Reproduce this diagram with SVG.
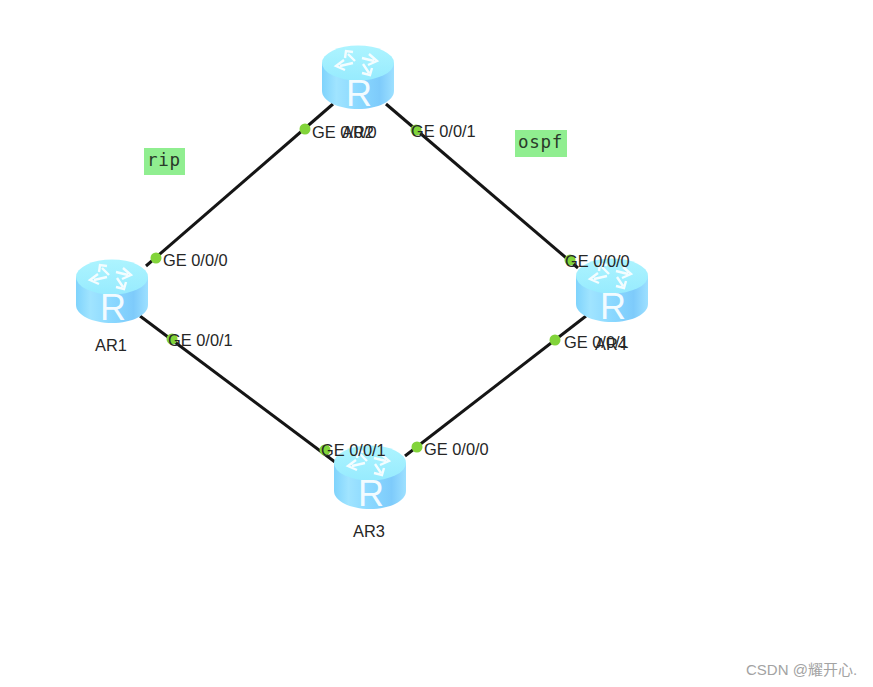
<svg xmlns="http://www.w3.org/2000/svg" xmlns:xlink="http://www.w3.org/1999/xlink" width="873" height="687" viewBox="0 0 873 687">
  <style>
    .link { stroke: #151515; stroke-width: 3; fill: none; }
    .port { fill: #82d43a; }
    .lbl { font-family: "Liberation Sans", Arial, sans-serif; font-size: 16.4px; fill: #262626; }
    .name { text-anchor: middle; }
    .r { font-family: "Liberation Sans", Arial, sans-serif; font-size: 36px; font-weight: 400; fill: #f2fbff; text-anchor: middle; }
    .tag { fill: #90ee90; }
    .tagt { font-family: "DejaVu Sans Mono", monospace; font-size: 17.5px; fill: #2a3a2a; letter-spacing: 0.7px; }
    .wm { font-family: "Liberation Sans", "Noto Sans CJK SC", sans-serif; font-size: 15px; fill: #a3a3a3; }
  </style>
  <defs>
    <linearGradient id="side" x1="0" x2="1" y1="0" y2="0">
      <stop offset="0" stop-color="#7fd3fc"/>
      <stop offset="0.2" stop-color="#a0e4ff"/>
      <stop offset="0.5" stop-color="#8ad8ff"/>
      <stop offset="0.8" stop-color="#7ecbfb"/>
      <stop offset="1" stop-color="#9de0ff"/>
    </linearGradient>
    <linearGradient id="top" x1="0" x2="0" y1="0" y2="1">
      <stop offset="0" stop-color="#adf4ff"/>
      <stop offset="1" stop-color="#97ebfe"/>
    </linearGradient>
    <!-- Router cylinder: 72 wide, 64 tall, drawn from its top-left corner -->
    <g id="router">
      <path d="M0 18 V46 C0 56 16 64 36 64 C56 64 72 56 72 46 V18 Z" fill="url(#side)"/>
      <ellipse cx="36" cy="18" rx="36" ry="17.5" fill="url(#top)"/>
      <g fill="none" stroke="#f4fdff" stroke-width="2.4" stroke-linejoin="miter">
        <!-- four arrows crossing on the cylinder's top -->
        <path d="M33 16 L26 9 M23 13 L24 6 L31 7"/>
        <path d="M31 18 L18 21 M22 15 L14 21 L23 25"/>
        <path d="M40 13 L52 16 M47 9 L55 16 L46 20"/>
        <path d="M41 19 L47 28 M40 28 L48 30 L50 23"/>
      </g>
      <text class="r" x="37" y="60.500">R</text>
    </g>
  </defs>

  <rect width="873" height="687" fill="#ffffff"/>

  <g id="connectors">
    <line class="link" x1="333" y1="104" x2="146" y2="266"/>
    <line class="link" x1="386" y1="104" x2="578" y2="268"/>
    <line class="link" x1="140" y1="316" x2="335" y2="462"/>
    <line class="link" x1="405" y1="456" x2="586" y2="316"/>
  </g>

  <g id="AR2">
    <use href="#router" x="322" y="45"/>
    <text class="lbl name" x="358" y="138">AR2</text>
  </g>
  <g id="AR1">
    <use href="#router" x="76" y="259"/>
    <text class="lbl name" x="111" y="351">AR1</text>
  </g>
  <g id="AR4">
    <use href="#router" x="576" y="258"/>
    <text class="lbl name" x="611" y="350">AR4</text>
  </g>
  <g id="AR3">
    <use href="#router" x="334" y="445"/>
    <text class="lbl name" x="369" y="537">AR3</text>
  </g>

  <g id="ports">
    <circle class="port" cx="305" cy="129" r="5.500"/>
    <text class="lbl" x="312" y="138">GE 0/0/0</text>
    <circle class="port" cx="416" cy="130" r="5.500"/>
    <text class="lbl" x="411" y="137">GE 0/0/1</text>
    <circle class="port" cx="156" cy="258" r="5.500"/>
    <text class="lbl" x="163" y="266">GE 0/0/0</text>
    <circle class="port" cx="172" cy="339" r="5.500"/>
    <text class="lbl" x="168" y="346">GE 0/0/1</text>
    <circle class="port" cx="570" cy="260" r="5.500"/>
    <text class="lbl" x="565" y="267">GE 0/0/0</text>
    <circle class="port" cx="555" cy="340" r="5.500"/>
    <text class="lbl" x="564" y="348">GE 0/0/1</text>
    <circle class="port" cx="325" cy="450" r="5.500"/>
    <text class="lbl" x="321" y="456">GE 0/0/1</text>
    <circle class="port" cx="417" cy="447" r="5.500"/>
    <text class="lbl" x="424" y="455">GE 0/0/0</text>
  </g>

  <g id="rip">
    <rect class="tag" x="144" y="148" width="41" height="27"/>
    <text class="tagt" x="147" y="166">rip</text>
  </g>
  <g id="ospf">
    <rect class="tag" x="515" y="130" width="52" height="27"/>
    <text class="tagt" x="518" y="148">ospf</text>
  </g>

  <text class="wm" x="746" y="675">CSDN @耀开心.</text>
</svg>
